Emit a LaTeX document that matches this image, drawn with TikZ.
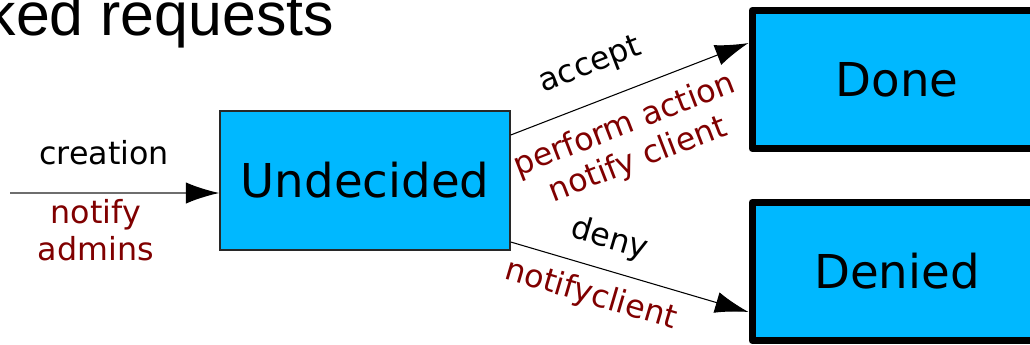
\documentclass[tikz,border=0pt]{standalone}
\usepackage{fontspec}
\setmainfont{DejaVu Sans}
\newfontfamily\titlefont{Liberation Sans}
\usetikzlibrary{arrows.meta,calc}

\tikzset{
  titletext/.style={anchor=base west,inner sep=0pt,font=\titlefont\fontsize{45.6}{54}\selectfont},
  midstate/.style={draw={rgb, 255:red, 40; green, 40; blue, 40},line width=1.1pt,
    fill={rgb, 255:red, 0; green, 184; blue, 255},minimum width=217.5pt,minimum height=104.25pt,
    inner sep=0pt,font=\fontsize{35}{42}\selectfont},
  endstate/.style={midstate,draw=black,line width=5.25pt,line join=round,minimum height=103.5pt},
  lbl/.style={inner sep=0pt,font=\fontsize{23.8}{27.75}\selectfont},
  act/.style={lbl,align=center,text={rgb, 255:red, 128; green, 0; blue, 0}},
  tip/.style={-{Latex[length=25pt,width=16pt,color=black]}},
  entryline/.style={tip,draw={rgb, 255:red, 110; green, 110; blue, 110},line width=1.1pt},
  transline/.style={tip,draw=black,line width=0.8pt}
}

\begin{document}
\begin{tikzpicture}[x=0.75pt,y=-0.75pt]
\useasboundingbox (0,0) rectangle (1030,344);

%Title
\node[titletext] (title) at (-14.5,35) {ked requests};

%States
\node[midstate] (undecided) at (365,180.5) {Undecided};
\node[endstate] (done) at (897,79.5) {Done};
\node[endstate] (denied) at (897,271.5) {Denied};

%Entry
\coordinate (entry) at (10,193);
\draw[entryline] (entry) -- node[lbl,pos=.45,above=20.5pt] {creation}
  node[act,pos=.41,below=4.5pt] {notify\\admins} (entry -| undecided.west);

%Transitions
\draw[transline] ($(undecided.east)+(0,-45.5)$) -- node[lbl,sloped,pos=.39,above=15.8pt] {accept}
  node[act,sloped,pos=.43,below=12.4pt] {perform action\\notify client} ($(done.west)+(0,-36.5)$);
\draw[transline] ($(undecided.east)+(0,61.5)$) -- node[lbl,sloped,pos=.38,above=10.7pt] {deny}
  node[act,sloped,pos=.37,below=9.6pt] {notifyclient} ($(denied.west)+(0,40.5)$);

\end{tikzpicture}
\end{document}
